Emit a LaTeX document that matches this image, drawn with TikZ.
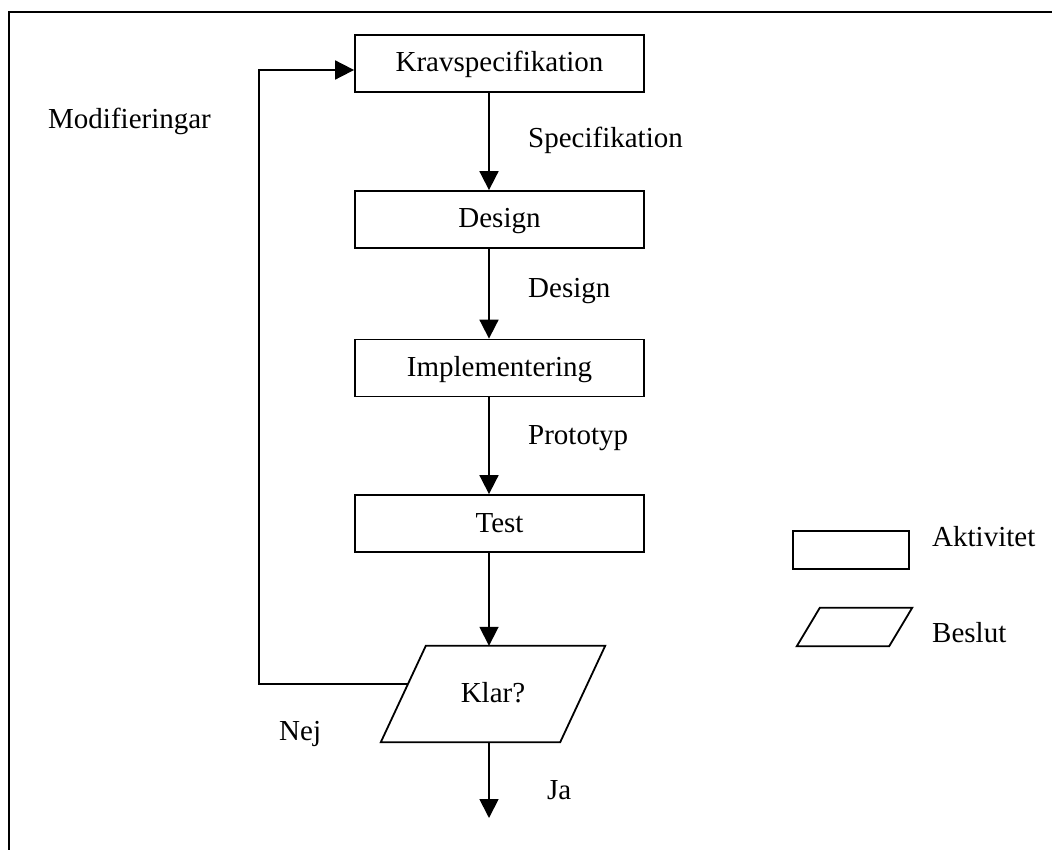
\documentclass[tikz,border=0pt]{standalone}
\usepackage{fontspec}
\setmainfont{Liberation Serif}
\usetikzlibrary{arrows.meta,calc}
\begin{document}
\begin{tikzpicture}[x=1pt,y=-1pt,
  lw/.style={line width=1.8pt},
  bigfont/.style={font=\fontsize{29}{34}\selectfont},
  actbox/.style={draw,lw,minimum width=289pt,minimum height=57pt,inner sep=0pt,bigfont,text height=23pt,text depth=6pt},
  lbl/.style={bigfont,inner sep=0pt,anchor=base west},
  flow/.style={lw,-{Triangle[length=19pt,width=19pt]}},
  decshape/.style={inner sep=0pt,bigfont,text height=23pt,text depth=6pt}
]
\useasboundingbox (0,0) rectangle (1052,850);
% frame
\draw[line width=2pt] (9,850) -- (9,12) -- (1052,12);

% activity boxes
\node[actbox] (kr) at (499.5,63.5) {Kravspecifikation};
\node[actbox] (de) at (499.5,219.5) {Design};
\node[actbox] (im) at (499.5,368) {Implementering};
\node[actbox] (te) at (499.5,523.5) {Test};

% decision
\node[decshape,minimum width=224pt,minimum height=96pt] (klar) at (493,694) {Klar?};
\draw[lw] ($(klar.north west)+(45,0)$) -- (klar.north east) -- ($(klar.south east)+(-45,0)$) -- (klar.south west) -- cycle;

% arrow column
\coordinate (ax) at (489,0);
\coordinate (out) at (489,818);
\coordinate (fb) at (408,684);
\coordinate (fbc) at (259,684);

\draw[flow] (kr.south -| ax) -- (de.north -| ax);
\draw[flow] (de.south -| ax) -- (im.north -| ax);
\draw[flow] (im.south -| ax) -- (te.north -| ax);
\draw[flow] (te.south -| ax) -- (klar.north -| ax);
\draw[flow] (klar.south -| ax) -- (out);
\draw[flow] (fb) -- (fbc) -- (fbc |- 0,70) -- (kr.west |- 0,70);

% labels
\node[lbl] (lmod) at (48,129) {Modifieringar};
\node[lbl] (lspec) at (528,148) {Specifikation};
\node[lbl] (ldes) at (528,298) {Design};
\node[lbl] (lpro) at (528,444) {Prototyp};
\node[lbl] (lnej) at (279,740) {Nej};
\node[lbl] (lja) at (547,799) {Ja};

% legend
\node[draw,lw,minimum width=116pt,minimum height=38pt,inner sep=0pt] (legact) at (851,550) {};
\node[inner sep=0pt,minimum width=115pt,minimum height=38pt] (legdec) at (854.5,627) {};
\draw[lw] ($(legdec.north west)+(23,0)$) -- (legdec.north east) -- ($(legdec.south east)+(-23,0)$) -- (legdec.south west) -- cycle;
\node[lbl] (lakt) at (932,546) {Aktivitet};
\node[lbl] (lbes) at (932,642) {Beslut};
\end{tikzpicture}
\end{document}
